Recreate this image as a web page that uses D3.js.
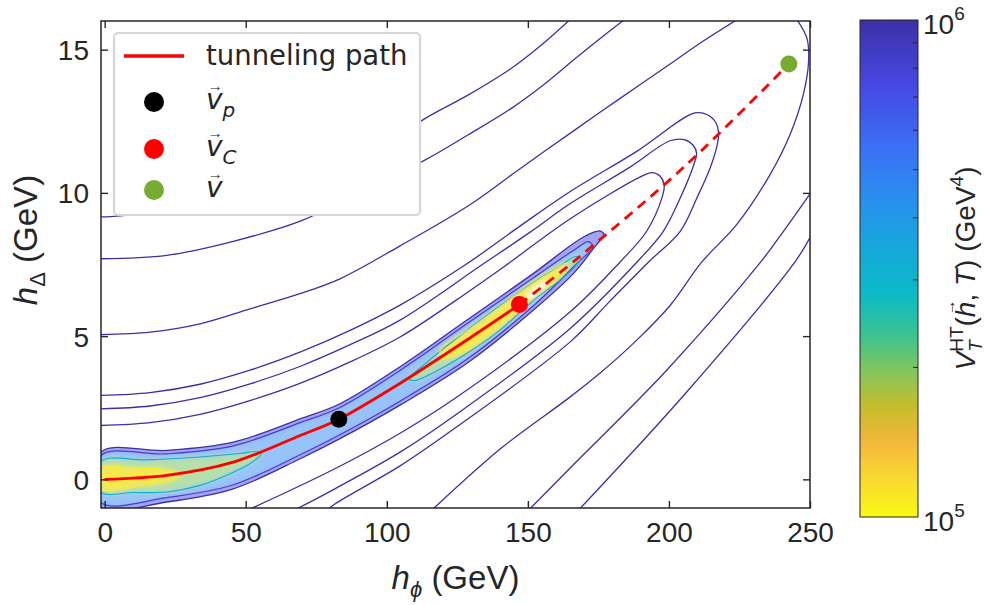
<!DOCTYPE html>
<html lang="en">
<head>
<meta charset="UTF-8" />
<title>Tunneling path</title>
<script src="https://cdn.jsdelivr.net/npm/d3@7"></script>
<style>
  body { margin: 0; background: #fff; }
  text { font-family: "Liberation Sans", Arial, sans-serif; fill: #262626; white-space: pre; }
</style>
</head>
<body>
<script>
// ---------- data (all in GeV) ----------
const xTicks = [0, 50, 100, 150, 200, 250];
const yTicks = [0, 5, 10, 15];
const cbMinorTicks = [2e5, 3e5, 4e5, 5e5, 6e5, 7e5, 8e5, 9e5];

// parula-like colour table, t = log10(V) - 5
const cbStops  = [0, 0.08, 0.15, 0.22, 0.29, 0.37, 0.45, 0.55, 0.65, 0.75, 0.87, 1];
const cbColors = ['#f9fa14', '#f8d830', '#f4b73c', '#c8bc2a', '#86c65a', '#38c394',
                  '#0bbac8', '#18a6dc', '#2b8cef', '#3b6ef7', '#4548e2', '#3b30a6'];

// points
const vP = [83, 2.1];
const vC = [147, 6.1];
const vTrue = [242.5, 14.5];

// tunneling path
const pathSolid  = [[0, 0], [22, 0.14], [45.6, 0.6], [69.3, 1.53], [83, 2.1], [105.3, 3.39], [128.9, 4.9], [147, 6.1]];
const pathDashed = [[147, 6.1], [167.4, 7.7], [206.4, 11.0], [242.5, 14.5]];

// open contour lines (V > 1e6)
const lineA = [[-1.3, 9.16], [2.2, 9.17], [33.8, 9.54], [69.2, 10.34], [97.6, 11.56], [113.8, 12.61],
               [128.9, 13.42], [144.3, 14.36], [154.9, 15.17], [165.5, 16.1]];
const lineB = [[-1.3, 7.70], [22, 7.82], [45.6, 8.31], [69.8, 9.03], [90.5, 10.03], [113.8, 11.16],
               [128.9, 12.03], [144.3, 12.96], [154.9, 13.72], [166.7, 14.68], [174.4, 15.29], [184.2, 16.05]];
const lineC = [[-1.3, 5.05], [16.1, 5.14], [33.8, 5.43], [51.5, 5.95], [69.2, 6.48], [83.4, 7.0],
               [104.7, 8.15], [128.9, 9.55], [146.6, 10.8], [166.7, 12.2], [182.7, 13.3],
               [200.4, 14.5], [212.2, 15.3], [225, 16.1]];
const hairpin1 = [[-1.3, 2.93], [16.1, 3.03], [33.8, 3.32], [51.5, 3.81], [69.2, 4.44], [87, 5.20],
                  [104.7, 6.08], [127.7, 7.48], [147.2, 8.84], [164.9, 10.04], [188.6, 11.45],
                  [209.2, 12.79], [213.8, 12.72], [216.7, 12.44], [217.6, 12.09], [217.1, 11.67],
                  [214.6, 10.87], [209.9, 9.82], [204.0, 8.66], [192.7, 7.58], [179.1, 6.22],
                  [164.9, 4.79], [124.2, 1.79], [104.7, 0.47], [81.6, -0.86], [78.5, -1.1]];
const hairpin2 = [[-1.3, 2.46], [16.1, 2.56], [33.8, 2.85], [51.5, 3.33], [69.2, 3.94], [87, 4.70],
                  [104.7, 5.56], [133.6, 7.48], [150.8, 8.63], [164.9, 9.62], [186.2, 10.90],
                  [200.4, 11.82], [205.4, 11.86], [208.5, 11.67], [209.8, 11.39], [208.9, 11.01],
                  [204.0, 9.82], [198.0, 8.66], [188.6, 7.58], [164.9, 5.26], [124.2, 2.24],
                  [104.7, 0.95], [81.6, -0.33], [66.7, -1.1]];
const hairpin3 = [[-1.3, 1.88], [16.1, 1.98], [33.8, 2.27], [51.5, 2.75], [69.2, 3.35], [87, 4.10],
                  [104.7, 4.97], [124.2, 6.23], [141.9, 7.45], [164.9, 9.09], [189.7, 10.55],
                  [194.0, 10.71], [196.8, 10.59], [198.3, 10.27], [197.6, 9.85], [192.1, 8.66],
                  [182.6, 7.58], [164.9, 5.84], [124.2, 2.83], [104.7, 1.61], [81.6, 0.37], [50.1, -1.1]];
const lineBig = [[245.0, 16.1], [248.9, 15.40], [249.5, 14.59], [247.6, 13.42], [242.9, 12.03],
                 [235.8, 10.63], [224.0, 8.89], [211.6, 7.58], [200.4, 6.07], [188.6, 4.86],
                 [175.6, 3.71], [164.9, 2.87], [140.7, 1.10], [115.7, -1.1]];
const lineD = [[150.0, -1.1], [164.9, 0.39], [199.2, 3.81], [231.9, 7.51], [240.6, 8.66], [250.6, 10.05]];
const lineE = [[167.7, -1.1], [206.3, 3.05], [244.6, 7.58], [250.6, 8.55]];
const openLines = [lineA, lineB, lineC, hairpin1, hairpin2, hairpin3, lineBig, lineD, lineE];

// closed contours of the valley (V < 1e6)
const bandOuter = [[-1.3, 0.95], [22, 1.01], [45.6, 1.30], [69.3, 2.11], [83.4, 2.64], [104.7, 3.93],
                   [128.4, 5.56], [152, 7.19], [169.7, 8.46], [175.6, 8.67], [177.1, 8.52],
                   [176.1, 8.40], [173.3, 8.06], [166.2, 7.19], [152, 5.91], [128.4, 4.05],
                   [104.7, 2.59], [83.4, 1.42], [69.3, 0.72], [45.6, -0.33], [22, -0.79], [-1.3, -0.97]];
const bandInner = [[-1.3, 0.83], [22, 0.89], [45.6, 1.17], [69.3, 1.98], [83.4, 2.51], [104.7, 3.80],
                   [128.4, 5.43], [152, 7.04], [166, 7.98], [171.5, 8.3], [173, 8.1], [168, 7.6],
                   [163, 7.1], [152, 6.06], [128.4, 4.19], [104.7, 2.73], [83.4, 1.56], [69.3, 0.86],
                   [45.6, -0.19], [22, -0.64], [-1.3, -0.81]];
const cyanLeft = [[-1.3, 0.63], [15, 0.68], [33.8, 0.78], [48, 0.9], [53.9, 0.97], [55.4, 0.88],
                  [52, 0.58], [45.6, 0.25], [33.8, -0.21], [22, -0.44], [10, -0.46], [-1.3, -0.44]];
const cyanRight = [[108, 3.5], [115, 4.15], [128.4, 5.2], [140, 6.05], [152, 6.9], [162, 7.5],
                   [167, 7.78], [168.5, 7.7], [166, 7.35], [160, 6.85], [152, 6.25], [140, 5.2],
                   [128.4, 4.4], [118, 3.8], [110, 3.45]];
const yellowLeft = [[-1.3, 0.38], [12, 0.38], [22, 0.34], [27, 0.14], [22, -0.07], [14, -0.2], [-1.3, -0.32]];
const yellowRight = [[119, 4.5], [130, 5.3], [140, 6.02], [150, 6.78], [158, 7.28], [164, 7.55],
                     [162, 7.1], [152, 6.33], [145, 5.72], [135, 4.92], [126, 4.36], [119, 4.25]];
const whiteSpot = [[149.5, 6.35], [153, 6.7], [157, 6.95], [155.5, 6.65], [151.5, 6.3]];
const valleyShapes = [
  { pts: bandInner,   level: 4.6e5, mix: 0.5 },
  { pts: cyanLeft,    level: 2.0e5, mix: 0.55 },
  { pts: cyanRight,   level: 2.0e5, mix: 0.55 },
  { pts: yellowLeft,  level: 1.12e5, mix: 0.85 },
  { pts: yellowRight, level: 1.1e5, mix: 0.85 },
  { pts: whiteSpot,   level: 1.0e5, mix: 0.0 }
];

// ---------- layout ----------
const W = 986, H = 605;
const L = 101, R = 810, T = 21, B = 508;
const cbL = 860, cbR = 918, cbT = 20, cbB = 517;

const svg = d3.select('body').append('svg').attr('width', W).attr('height', H);

const x = d3.scaleLinear().domain([-1.3, 250]).range([L, R]);
const y = d3.scaleLinear().domain([-1, 16]).range([B, T]);
const cmap = d3.scaleLinear().domain(cbStops).range(cbColors).clamp(true);
const colour = v => cmap(Math.log10(v) - 5);
const washed = (v, m) => d3.interpolateRgb('#ffffff', colour(v))(m);
const cbY = d3.scaleLog().domain([1e5, 1e6]).range([cbB, cbT]);

const line = d3.line().x(d => x(d[0])).y(d => y(d[1])).curve(d3.curveCatmullRom.alpha(0.5));
const closed = d3.line().x(d => x(d[0])).y(d => y(d[1])).curve(d3.curveCatmullRomClosed.alpha(0.5));

const defs = svg.append('defs');
defs.append('clipPath').attr('id', 'plotClip')
  .append('rect').attr('x', L).attr('y', T).attr('width', R - L).attr('height', B - T);
defs.append('clipPath').attr('id', 'innerClip')
  .append('path').attr('d', closed(bandInner));
defs.append('filter').attr('id', 'soft').attr('x', '-20%').attr('y', '-20%').attr('width', '140%').attr('height', '140%')
  .append('feGaussianBlur').attr('stdDeviation', 2.4);

const plot = svg.append('g').attr('clip-path', 'url(#plotClip)');

// filled valley (colours of the map washed towards white, as the semi-transparent surface)
plot.append('path').attr('d', closed(bandOuter)).attr('fill', washed(7.4e5, 0.5));
plot.append('g').attr('clip-path', 'url(#innerClip)')
  .append('g').attr('filter', 'url(#soft)')
  .selectAll('path').data(valleyShapes).join('path')
  .attr('d', d => closed(d.pts))
  .attr('fill', d => washed(d.level, d.mix));

// valley contour lines
plot.append('path').attr('d', closed(bandOuter)).attr('fill', 'none')
  .attr('stroke', colour(1e6)).attr('stroke-width', 1.3);
plot.append('path').attr('d', closed(bandInner)).attr('fill', 'none')
  .attr('stroke', colour(8.2e5)).attr('stroke-width', 1.2);
plot.selectAll('.cyan').data([cyanLeft, cyanRight]).join('path')
  .attr('d', closed).attr('fill', 'none')
  .attr('stroke', colour(3.2e5)).attr('stroke-width', 1.1);
plot.selectAll('.yel').data([yellowLeft, yellowRight]).join('path')
  .attr('d', closed).attr('fill', 'none')
  .attr('stroke', colour(1.05e5)).attr('stroke-width', 1);

// outer contour lines
plot.selectAll('.cl').data(openLines).join('path')
  .attr('d', line).attr('fill', 'none')
  .attr('stroke', colour(1e6)).attr('stroke-width', 1.3);

// tunneling path
plot.append('path').attr('d', line(pathSolid)).attr('fill', 'none')
  .attr('stroke', '#ff0000').attr('stroke-width', 2.8);
plot.append('path').attr('d', line(pathDashed)).attr('fill', 'none')
  .attr('stroke', '#ff0000').attr('stroke-width', 2.8).attr('stroke-dasharray', '10,7');

// points
const pts = [{ p: vP, c: '#000000' }, { p: vC, c: '#ff0000' }, { p: vTrue, c: '#77ac30' }];
plot.selectAll('.pt').data(pts).join('circle')
  .attr('cx', d => x(d.p[0])).attr('cy', d => y(d.p[1])).attr('r', 8.5).attr('fill', d => d.c);

// ---------- axes ----------
const axisCol = '#262626';
const gx = svg.append('g').attr('transform', `translate(0,${B})`)
  .call(d3.axisBottom(x).tickValues(xTicks).tickSizeInner(-7).tickSizeOuter(0).tickPadding(14));
const gxt = svg.append('g').attr('transform', `translate(0,${T})`)
  .call(d3.axisTop(x).tickValues(xTicks).tickSizeInner(-7).tickSizeOuter(0).tickFormat(''));
const gy = svg.append('g').attr('transform', `translate(${L},0)`)
  .call(d3.axisLeft(y).tickValues(yTicks).tickSizeInner(-7).tickSizeOuter(0).tickPadding(12));
const gyr = svg.append('g').attr('transform', `translate(${R},0)`)
  .call(d3.axisRight(y).tickValues(yTicks).tickSizeInner(-7).tickSizeOuter(0).tickFormat(''));
[gx, gxt, gy, gyr].forEach(g => {
  g.select('.domain').remove();
  g.selectAll('line').attr('stroke', axisCol).attr('stroke-width', 1.4);
  g.selectAll('text').attr('font-size', 28).attr('fill', axisCol)
    .style('font-family', '"Liberation Sans", Arial, sans-serif');
});
gy.selectAll('text').attr('dy', '0.36em');
svg.append('rect').attr('x', L).attr('y', T).attr('width', R - L).attr('height', B - T)
  .attr('fill', 'none').attr('stroke', axisCol).attr('stroke-width', 1.5);

// rich text helper: pieces laid out left to right
function rich(parent, pieces, anchorMiddle) {
  const g = parent.append('g');
  let start = 0, end = 0;
  pieces.forEach(p => {
    const s = p.stack ? start : end;
    const t = g.append('text').attr('x', s).attr('y', p.dy || 0)
      .attr('font-size', p.size).attr('font-style', p.it ? 'italic' : 'normal').text(p.t);
    if (p.font) t.style('font-family', p.font);
    if (p.fill) t.attr('fill', p.fill);
    const w = t.node().getComputedTextLength();
    if (p.arrow) {
      g.append('text').attr('x', s + w / 2 + (p.ax || 0)).attr('y', (p.dy || 0) - p.arrow)
        .attr('text-anchor', 'middle').attr('font-size', p.size * 0.55)
        .attr('fill', p.fill || axisCol).text('\u2192');
    }
    start = s;
    end = Math.max(p.stack ? end : 0, s + w);
  });
  if (anchorMiddle) g.attr('transform', `translate(${-end / 2},0)`);
  return g;
}

// axis labels
const xl = svg.append('g').attr('transform', `translate(${(L + R) / 2},589)`);
rich(xl, [
  { t: 'h', it: true, size: 33 },
  { t: '\u03d5', it: true, size: 22, dy: 8 },
  { t: '\u00a0(GeV)', size: 33 }
], true);
const yl = svg.append('g').attr('transform', `translate(37,240) rotate(-90)`);
rich(yl, [
  { t: 'h', it: true, size: 33 },
  { t: '\u0394', size: 22, dy: 8 },
  { t: '\u00a0(GeV)', size: 33 }
], true);

// ---------- colorbar ----------
const grad = defs.append('linearGradient').attr('id', 'cbGrad')
  .attr('x1', 0).attr('y1', 1).attr('x2', 0).attr('y2', 0);
grad.selectAll('stop').data(cbStops).join('stop')
  .attr('offset', d => d).attr('stop-color', (d, i) => cbColors[i]);
svg.append('rect').attr('x', cbL).attr('y', cbT).attr('width', cbR - cbL).attr('height', cbB - cbT)
  .attr('fill', 'url(#cbGrad)').attr('stroke', axisCol).attr('stroke-width', 1);
svg.selectAll('.cbt').data(cbMinorTicks).join('line')
  .attr('x1', cbR - 5).attr('x2', cbR).attr('y1', d => cbY(d)).attr('y2', d => cbY(d))
  .attr('stroke', axisCol).attr('stroke-width', 1);
[[1e6, '6'], [1e5, '5']].forEach(([v, e]) => {
  const g = svg.append('g').attr('transform', `translate(923,${cbY(v) + 14})`);
  rich(g, [{ t: '10', size: 28 }, { t: e, size: 19, dy: -14 }], false);
});
const cl = svg.append('g').attr('transform', `translate(975,${(cbT + cbB) / 2}) rotate(-90)`);
rich(cl, [
  { t: 'V', it: true, size: 28 },
  { t: 'T', it: true, size: 19, dy: 7 },
  { t: 'HT', size: 19, dy: -12, stack: true },
  { t: '(', size: 28 },
  { t: 'h', it: true, size: 28, arrow: 20, ax: 2 },
  { t: ',\u00a0', size: 28 },
  { t: 'T', it: true, size: 28 },
  { t: ')\u00a0(GeV', size: 28 },
  { t: '4', size: 19, dy: -12 },
  { t: ')', size: 28 }
], true);

// ---------- legend ----------
const lg = svg.append('g');
lg.append('rect').attr('x', 114).attr('y', 33).attr('width', 306).attr('height', 182).attr('rx', 4)
  .attr('fill', '#fff').attr('stroke', '#d6d6d6').attr('stroke-width', 2.2);
lg.append('line').attr('x1', 124).attr('x2', 184).attr('y1', 56).attr('y2', 56)
  .attr('stroke', '#ff0000').attr('stroke-width', 3.5);
lg.append('text').attr('x', 206).attr('y', 65).attr('font-size', 27.5).attr('fill', '#000')
  .style('font-family', '"DejaVu Sans", sans-serif').text('tunneling path');
const legItems = [
  { c: '#000000', sub: 'p', cy: 102 },
  { c: '#ff0000', sub: 'C', cy: 149 },
  { c: '#77ac30', sub: '', cy: 190 }
];
legItems.forEach(d => {
  lg.append('circle').attr('cx', 154).attr('cy', d.cy).attr('r', 10).attr('fill', d.c);
  const g = lg.append('g').attr('transform', `translate(206,${d.cy + 7})`);
  const pieces = [{ t: 'v', it: true, size: 28, arrow: 18, ax: 1, font: '"DejaVu Sans", sans-serif', fill: '#000' }];
  if (d.sub) pieces.push({ t: d.sub, it: true, size: 20, dy: 8, font: '"DejaVu Sans", sans-serif', fill: '#000' });
  rich(g, pieces, false);
});
</script>
</body>
</html>
